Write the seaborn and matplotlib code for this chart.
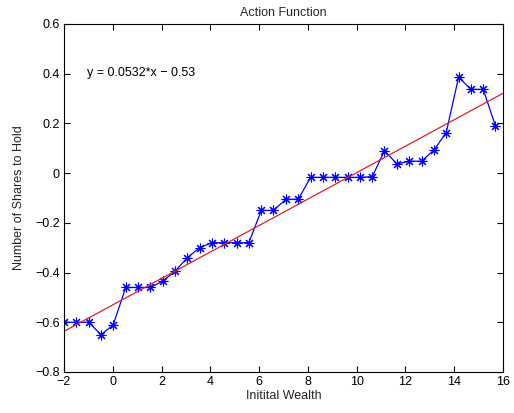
import matplotlib
matplotlib.use("Agg")
import matplotlib.pyplot as plt
import matplotlib.ticker as mticker
import numpy as np
import pandas as pd
import seaborn as sns

# Initial wealth grid and the resulting holdings chosen by the policy
wealth = [-2.00, -1.49, -0.99, -0.48, 0.02, 0.53, 1.03, 1.54, 2.04, 2.55,
          3.06, 3.56, 4.07, 4.57, 5.08, 5.58, 6.09, 6.59, 7.10, 7.61,
          8.11, 8.62, 9.12, 9.63, 10.13, 10.64, 11.14, 11.65, 12.16, 12.66,
          13.17, 13.67, 14.18, 14.68, 15.19, 15.69]
shares = [-0.60, -0.60, -0.60, -0.65, -0.61, -0.46, -0.46, -0.46, -0.435, -0.395,
          -0.34, -0.30, -0.28, -0.28, -0.28, -0.28, -0.15, -0.15, -0.105, -0.105,
          -0.017, -0.017, -0.017, -0.017, -0.017, -0.014, 0.09, 0.037, 0.048, 0.048,
          0.093, 0.163, 0.386, 0.337, 0.337, 0.19]

# Least-squares line reported on the chart
fit_slope = 0.0532
fit_intercept = -0.53
fit_label = "y = 0.0532*x \u2212 0.53"

x_ticks = [-2, 0, 2, 4, 6, 8, 10, 12, 14, 16]
y_ticks = [-0.8, -0.6, -0.4, -0.2, 0, 0.2, 0.4, 0.6]

sns.set_theme(style="white")
plt.rcParams["font.family"] = ["Liberation Sans", "DejaVu Sans"]
plt.rcParams["font.size"] = 9

fig = plt.figure(figsize=(5.14, 4.13), dpi=100)
ax = fig.add_axes([0.1245, 0.0993, 0.8541, 0.8426])

df = pd.DataFrame({"wealth": wealth, "shares": shares})
sns.lineplot(data=df, x="wealth", y="shares", ax=ax, color="#0000ff",
             linewidth=0.9, marker=(8, 2, 0), markersize=7,
             markeredgecolor="#0000ff", markeredgewidth=0.8)

fit_x = np.array([-2, 16])
fit_df = pd.DataFrame({"x": fit_x, "y": fit_slope * fit_x + fit_intercept})
sns.lineplot(data=fit_df, x="x", y="y", ax=ax, color="#e02020", linewidth=0.9)

ax.text(-1.05, 0.403, fit_label, fontsize=9, ha="left", va="center", color="black")

ax.set_xlim(-2, 16)
ax.set_ylim(-0.8, 0.6)
ax.set_xticks(x_ticks)
ax.set_yticks(y_ticks)
ax.xaxis.set_major_formatter(mticker.FuncFormatter(lambda v, p: f"{v:g}".replace("-", "\u2212")))
ax.yaxis.set_major_formatter(mticker.FuncFormatter(lambda v, p: f"{v:g}".replace("-", "\u2212")))
ax.tick_params(direction="in", length=4, width=0.8, colors="black", labelsize=9,
               top=True, right=True, bottom=True, left=True, pad=3)
for s in ax.spines.values():
    s.set_visible(True)
    s.set_color("black")
    s.set_linewidth(0.8)

ax.set_title("Action Function", fontsize=9, pad=6)
ax.set_xlabel("Initital Wealth", fontsize=9, labelpad=1)
ax.set_ylabel("Number of Shares to Hold", fontsize=9, labelpad=7)

fig.savefig("out.png", dpi=100)
